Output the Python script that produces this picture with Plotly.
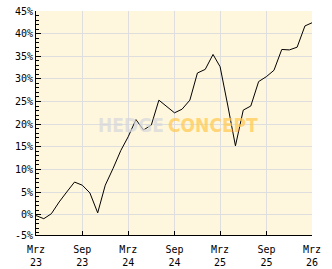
import plotly.graph_objects as go
import pandas as pd

dates = pd.date_range("2023-03-01", periods=37, freq="MS")
values = [-0.2, -0.9, 0.2, 2.8, 5.0, 7.2, 6.5, 4.8, 0.4, 6.5,
          10.2, 14.2, 17.2, 21.0, 18.7, 19.8, 25.3, 23.8, 22.5, 23.3,
          25.3, 31.3, 32.1, 35.4, 32.7, 24.0, 15.2, 23.1, 24.0, 29.4,
          30.5, 31.9, 36.5, 36.4, 37.0, 41.7, 42.4]

x_tick_dates = ["2023-03-01", "2023-09-01", "2024-03-01", "2024-09-01",
                "2025-03-01", "2025-09-01", "2026-03-01"]
x_tick_text = ["Mrz<br>23", "Sep<br>23", "Mrz<br>24", "Sep<br>24",
               "Mrz<br>25", "Sep<br>25", "Mrz<br>26"]
y_tick_vals = [-4.5, 0, 5, 10, 15, 20, 25, 30, 35, 40, 45]
y_tick_text = ["-5%", "0%", "5%", "10%", "15%", "20%", "25%", "30%", "35%", "40%", "45%"]

fig = go.Figure()
fig.add_trace(go.Scatter(x=dates, y=values, mode="lines",
                         line=dict(color="black", width=1), hoverinfo="skip"))

font = dict(family="DejaVu Sans Mono", size=10, color="black")
fig.update_layout(
    width=332, height=269,
    margin=dict(l=36, r=20, t=11, b=34),
    paper_bgcolor="white", plot_bgcolor="#fff7dd",
    showlegend=False,
    xaxis=dict(type="date", range=["2023-03-01", "2026-03-01"],
               tickmode="array", tickvals=x_tick_dates, ticktext=x_tick_text,
               ticks="inside", ticklen=4, tickcolor="black",
               ticklabelstandoff=5, automargin=False,
               showline=True, linecolor="black", linewidth=1,
               showgrid=True, gridcolor="#dedede", gridwidth=1,
               zeroline=False, tickfont=font, fixedrange=True),
    yaxis=dict(range=[-4.5, 45], tickmode="array", tickvals=y_tick_vals,
               ticktext=y_tick_text, automargin=False,
               ticks="inside", ticklen=5, tickcolor="black",
               showline=True, linecolor="black", linewidth=1,
               showgrid=True, gridcolor="#dedede", gridwidth=1,
               zeroline=False, tickfont=font, fixedrange=True,
               minor=dict(tickmode="linear", tick0=0, dtick=1, ticks="inside",
                          ticklen=3, tickcolor="black", showgrid=False)),
)

wm_font = "DejaVu Sans Condensed"
fig.add_annotation(xref="paper", yref="paper", x=0.471, y=0.49,
                   xanchor="right", yanchor="middle", showarrow=False,
                   text="<b>HEDGE</b>",
                   font=dict(family=wm_font, size=19, color="rgba(215,215,220,0.72)"))
fig.add_annotation(xref="paper", yref="paper", x=0.471, y=0.49,
                   xanchor="left", yanchor="middle", showarrow=False,
                   text="<b>CONCEPT</b>",
                   font=dict(family=wm_font, size=19, color="rgba(255,200,80,0.72)"))

fig.write_html("out.html")
